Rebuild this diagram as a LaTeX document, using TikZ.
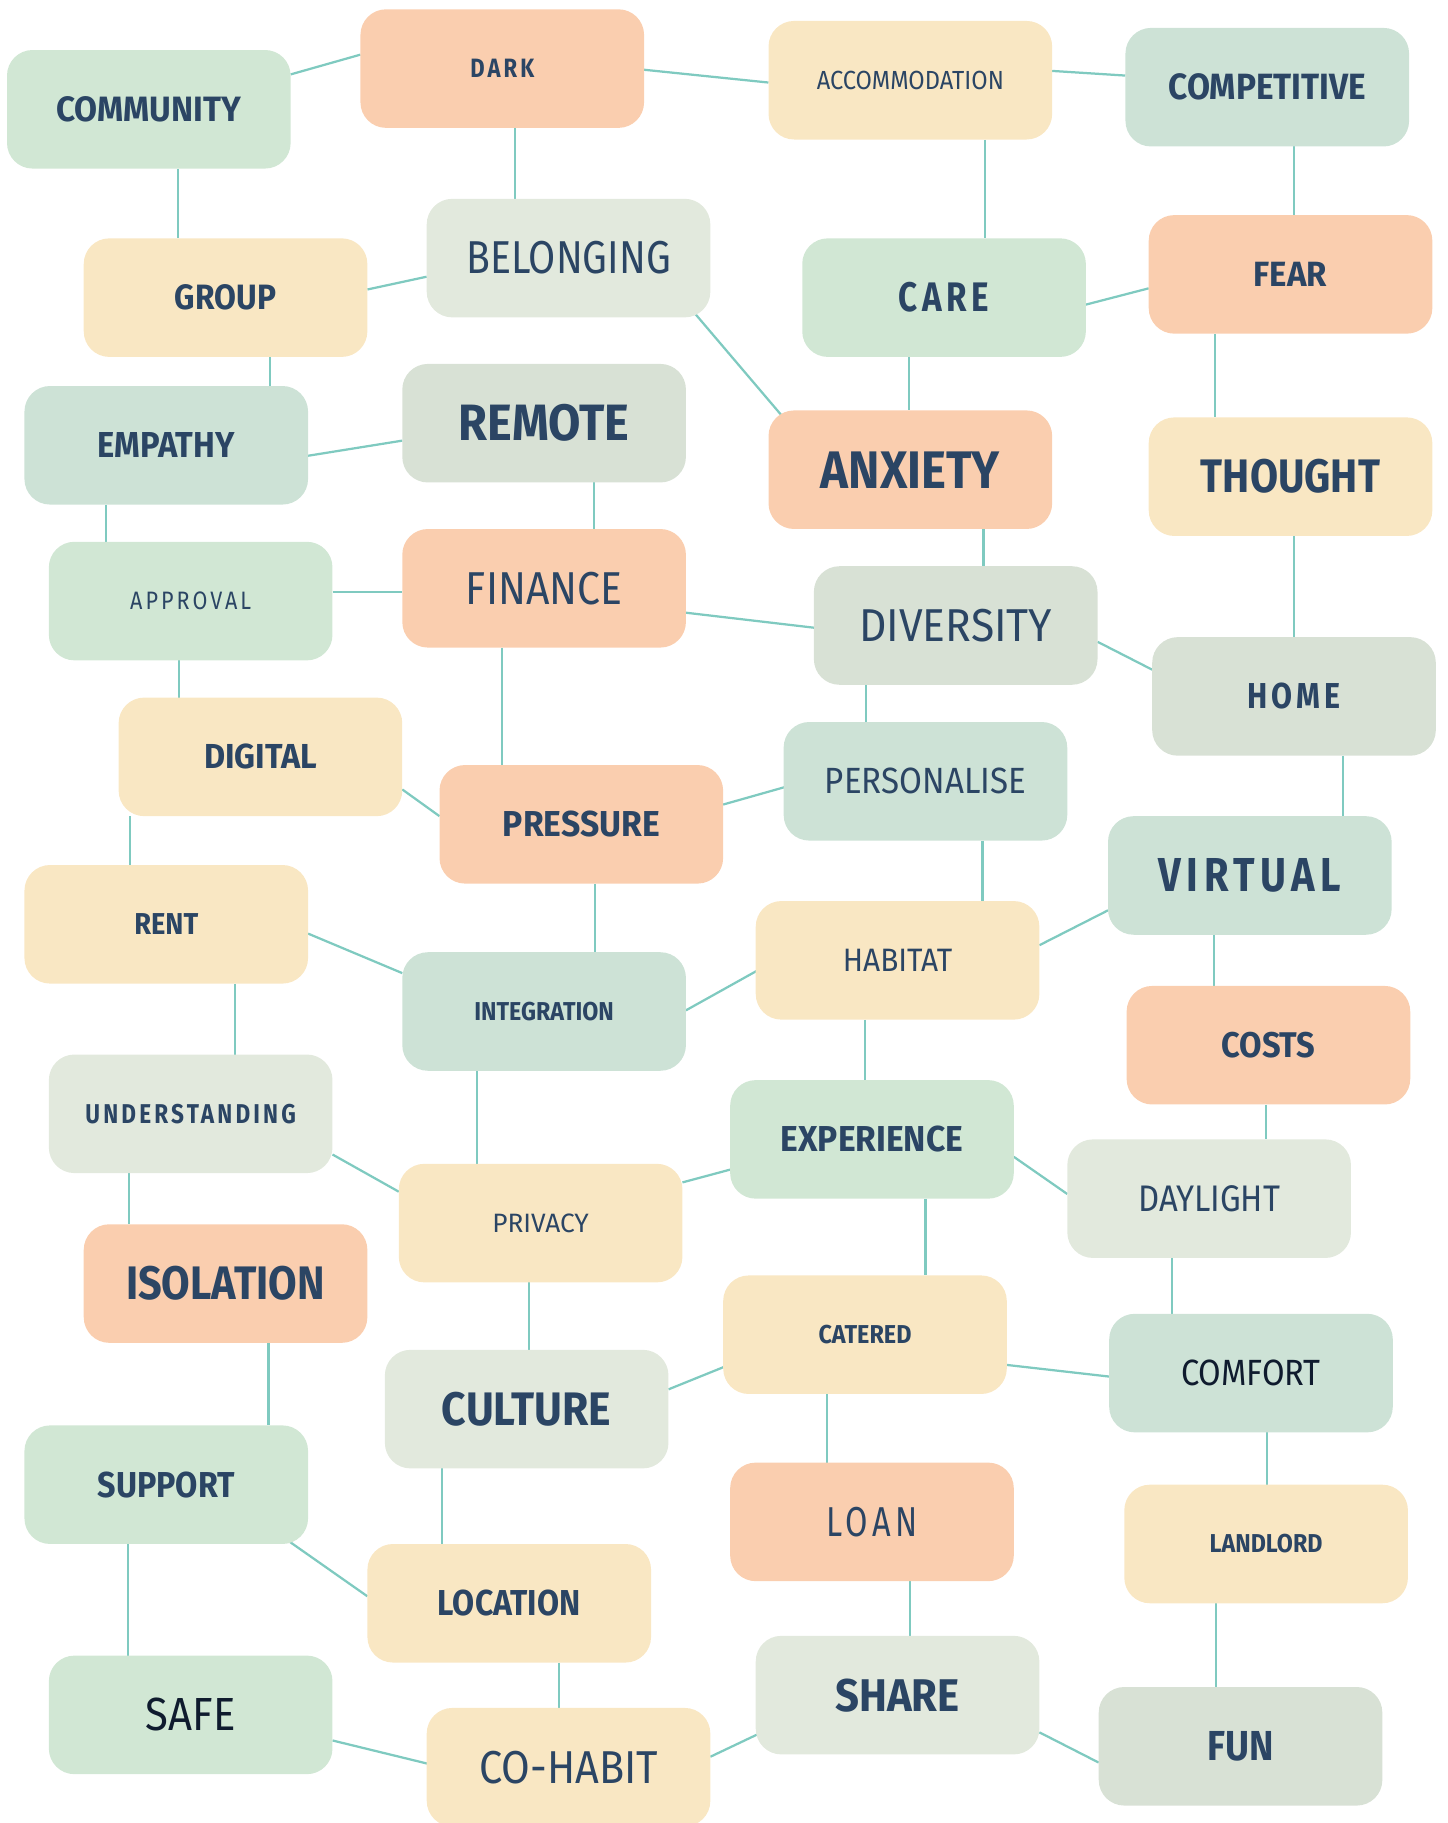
\documentclass[tikz,border=0pt]{standalone}
\usepackage{fontspec}
\setmainfont{Fira Sans}
\usepackage{graphicx}
\usepackage{tikz}
\usetikzlibrary{calc}
\pgfdeclarelayer{background}
\pgfsetlayers{background,main}

\definecolor{ink}{HTML}{2B4564}
\definecolor{deepink}{HTML}{0F1B2E}
\definecolor{leafc}{HTML}{D1E7D4}
\definecolor{peachc}{HTML}{FACEAF}
\definecolor{creamc}{HTML}{F9E7C3}
\definecolor{mintc}{HTML}{CDE2D6}
\definecolor{palec}{HTML}{E2E9DD}
\definecolor{sagec}{HTML}{D8E1D5}
\definecolor{linkc}{HTML}{7FCAC0}

% one unit of the picture
\newlength{\dpx}
\setlength{\dpx}{0.02cm}
% word squeezed to width x cap height
\newcommand{\tw}[3]{\resizebox{#1\dpx}{#2\dpx}{#3}}

\begin{document}
\begin{tikzpicture}[
		x=0.02cm, y=-0.02cm,
		Tag/.style={rectangle,rounded corners=0.44cm,minimum width=4.88cm,minimum height=2.04cm,inner sep=0pt,text=ink,font=\bfseries},
		Thin/.style={font=\mdseries},
		Wide/.style={font=\bfseries\addfontfeature{LetterSpace=14}},
		ThinWide/.style={font=\mdseries\addfontfeature{LetterSpace=14}},
		Leaf/.style={fill=leafc},
		Peach/.style={fill=peachc},
		Cream/.style={fill=creamc},
		Mint/.style={fill=mintc},
		Pale/.style={fill=palec},
		Sage/.style={fill=sagec},
		Link/.style={draw=linkc,line width=1.1pt}
		]
		\useasboundingbox (0,0) rectangle (1245,1568);
		\clip (0,0) rectangle (1245,1568);
		
		% first row
		\node[Tag,Leaf] (community) at (128,94) {\tw{159}{21.5}{COMMUNITY}};
		\node[Tag,Peach,Wide] (dark) at (432,59) {\tw{55}{15.8}{DARK}};
		\node[Tag,Cream,Thin] (accommodation) at (783,69) {\tw{161}{15.8}{ACCOMMODATION}};
		\node[Tag,Mint] (competitive) at (1090,75) {\tw{170}{22.3}{COMPETITIVE}};
		
		\node[Tag,Pale,Thin] (belonging) at (489,222) {\tw{176}{27.8}{BELONGING}};
		\node[Tag,Cream] (group) at (194,256) {\tw{87}{21.5}{GROUP}};
		\node[Tag,Leaf,Wide] (care) at (812,256) {\tw{78}{25.2}{CARE}};
		\node[Tag,Peach] (fear) at (1110,236) {\tw{63}{20.9}{FEAR}};
		
		\node[Tag,Mint] (empathy) at (143,383) {\tw{118}{21.5}{EMPATHY}};
		\node[Tag,Sage] (remote) at (468,364) {\tw{147}{31.2}{REMOTE}};
		\node[Tag,Peach] (anxiety) at (783,404) {\tw{154}{31.5}{ANXIETY}};
		\node[Tag,Cream] (thought) at (1110,410) {\tw{154}{28.7}{THOUGHT}};
		
		\node[Tag,Leaf,ThinWide] (approval) at (164,517) {\tw{104}{15.2}{APPROVAL}};
		\node[Tag,Peach,Thin] (finance) at (468,506) {\tw{134.5}{27.8}{FINANCE}};
		\node[Tag,Sage,Thin] (diversity) at (822,538) {\tw{166}{27.8}{DIVERSITY}};
		\node[Tag,Sage,Wide] (home) at (1113,599) {\tw{80.5}{22}{HOME}};
		
		\node[Tag,Cream] (digital) at (224,651) {\tw{97}{21.2}{DIGITAL}};
		\node[Tag,Peach] (pressure) at (500,709) {\tw{135}{22}{PRESSURE}};
		\node[Tag,Mint,Thin] (personalise) at (796,672) {\tw{173}{22}{PERSONALISE}};
		\node[Tag,Mint,Wide] (virtual) at (1075,753) {\tw{157}{28.4}{VIRTUAL}};
		
		\node[Tag,Cream] (rent) at (143,795) {\tw{55}{18}{RENT}};
		\node[Tag,Cream,Thin] (habitat) at (772,826) {\tw{94}{19.2}{HABITAT}};
		\node[Tag,Mint] (integration) at (468,870) {\tw{120}{15.8}{INTEGRATION}};
		\node[Tag,Peach] (costs) at (1091,899) {\tw{81}{21.8}{COSTS}};
		
		\node[Tag,Pale,Wide] (understanding) at (164,958) {\tw{181}{16.6}{UNDERSTANDING}};
		\node[Tag,Leaf] (experience) at (750,980) {\tw{157}{22}{EXPERIENCE}};
		\node[Tag,Pale,Thin] (daylight) at (1040,1031) {\tw{122}{22.3}{DAYLIGHT}};
		\node[Tag,Cream,Thin] (privacy) at (465,1052) {\tw{83}{16}{PRIVACY}};
		
		\node[Tag,Peach] (isolation) at (194,1104) {\tw{171}{28.7}{ISOLATION}};
		\node[Tag,Cream] (catered) at (744,1148) {\tw{80}{15.8}{CATERED}};
		\node[Tag,Mint,Thin,text=deepink] (comfort) at (1076,1181) {\tw{120}{22}{COMFORT}};
		\node[Tag,Pale] (culture) at (453,1212) {\tw{145.7}{28.7}{CULTURE}};
		
		\node[Tag,Leaf] (support) at (143,1277) {\tw{118}{22}{SUPPORT}};
		\node[Tag,Peach,ThinWide] (loan) at (750,1309) {\tw{78.5}{25.2}{LOAN}};
		\node[Tag,Cream] (landlord) at (1089,1328) {\tw{97}{15.8}{LANDLORD}};
		\node[Tag,Cream] (location) at (438,1379) {\tw{122.7}{22}{LOCATION}};
		
		% last row
		\node[Tag,Leaf,Thin,text=deepink] (safe) at (164,1475) {\tw{77}{28}{SAFE}};
		\node[Tag,Pale] (share) at (772,1458) {\tw{107}{28}{SHARE}};
		\node[Tag,Sage] (fun) at (1067,1502) {\tw{57}{25}{FUN}};
		\node[Tag,Cream,Thin] (cohabit) at (489,1520) {\tw{153.7}{27.8}{CO-HABIT}};
		
		\begin{pgfonlayer}{background}
		\draw[Link] ($(community)+(122,-30)$) -- ($(dark)+(-122,-12)$);
		\draw[Link] ($(dark)+(122,1)$) -- ($(accommodation)+(-122,2)$);
		\draw[Link] ($(accommodation)+(122,-8)$) -- ($(competitive)+(-122,-10)$);
		\draw[Link] ($(dark)+(11,51)$) -- ($(belonging)+(-46,-51)$);
		\draw[Link] ($(community)+(25,51)$) -- ($(group)+(-41,-51)$);
		\draw[Link] ($(group)+(122,-7)$) -- ($(belonging)+(-122,16)$);
		\draw[Link] ($(accommodation)+(64,51)$) -- ($(care)+(35,-51)$);
		\draw[Link] ($(competitive)+(23,51)$) -- ($(fear)+(3,-51)$);
		\draw[Link] ($(care)+(122,6)$) -- ($(fear)+(-122,12)$);
		\draw[Link] ($(belonging)+(109,48)$) -- ($(anxiety)+(-111,-47)$);
		\draw[Link] ($(group)+(38,51)$) -- ($(empathy)+(89,-51)$);
		\draw[Link] ($(empathy)+(122,9)$) -- ($(remote)+(-122,15)$);
		\draw[Link] ($(care)+(-30,51)$) -- ($(anxiety)+(-1,-51)$);
		\draw[Link] ($(fear)+(-65,51)$) -- ($(thought)+(-65,-51)$);
		\draw[Link] ($(empathy)+(-52,51)$) -- ($(approval)+(-73,-51)$);
		\draw[Link] ($(remote)+(43,51)$) -- ($(finance)+(43,-51)$);
		\draw[Link] ($(approval)+(122,-8)$) -- ($(finance)+(-122,3)$);
		\draw[Link] ($(anxiety)+(63,51)$) -- ($(diversity)+(24,-51)$);
		\draw[Link] ($(finance)+(122,21)$) -- ($(diversity)+(-121,2)$);
		\draw[Link] ($(thought)+(3,51)$) -- ($(home)+(0,-51)$);
		\draw[Link] ($(diversity)+(122,14)$) -- ($(home)+(-122,-23)$);
		\draw[Link] ($(approval)+(-10,51)$) -- ($(digital)+(-70,-51)$);
		\draw[Link] ($(finance)+(-36,51)$) -- ($(pressure)+(-68,-51)$);
		\draw[Link] ($(digital)+(122,28)$) -- ($(pressure)+(-122,-7)$);
		\draw[Link] ($(diversity)+(-77,51)$) -- ($(personalise)+(-51,-51)$);
		\draw[Link] ($(pressure)+(122,-17)$) -- ($(personalise)+(-121,5)$);
		\draw[Link] ($(home)+(42,51)$) -- ($(virtual)+(80,-51)$);
		\draw[Link] ($(digital)+(-112,51)$) -- ($(rent)+(-31,-51)$);
		\draw[Link] ($(personalise)+(49,51)$) -- ($(habitat)+(73,-51)$);
		\draw[Link] ($(virtual)+(-122,30)$) -- ($(habitat)+(122,-13)$);
		\draw[Link] ($(rent)+(122,8)$) -- ($(integration)+(-122,-33)$);
		\draw[Link] ($(pressure)+(12,51)$) -- ($(integration)+(44,-51)$);
		\draw[Link] ($(integration)+(122,-1)$) -- ($(habitat)+(-121,9)$);
		\draw[Link] ($(virtual)+(-31,51)$) -- ($(costs)+(-47,-51)$);
		\draw[Link] ($(rent)+(59,51)$) -- ($(understanding)+(38,-51)$);
		\draw[Link] ($(habitat)+(-28,51)$) -- ($(experience)+(-6,-51)$);
		\draw[Link] ($(integration)+(-58,51)$) -- ($(privacy)+(-55,-51)$);
		\draw[Link] ($(understanding)+(122,35)$) -- ($(privacy)+(-122,-27)$);
		\draw[Link] ($(privacy)+(122,-35)$) -- ($(experience)+(-122,26)$);
		\draw[Link] ($(experience)+(122,15)$) -- ($(daylight)+(-122,-4)$);
		\draw[Link] ($(costs)+(-2,51)$) -- ($(daylight)+(49,-51)$);
		\draw[Link] ($(understanding)+(-53,51)$) -- ($(isolation)+(-83,-51)$);
		\draw[Link] ($(experience)+(46,51)$) -- ($(catered)+(52,-51)$);
		\draw[Link] ($(daylight)+(-32,51)$) -- ($(comfort)+(-68,-51)$);
		\draw[Link] ($(privacy)+(-10,51)$) -- ($(culture)+(2,-51)$);
		\draw[Link] ($(catered)+(122,26)$) -- ($(comfort)+(-122,3)$);
		\draw[Link] ($(catered)+(-122,28)$) -- ($(culture)+(122,-17)$);
		\draw[Link] ($(isolation)+(37,51)$) -- ($(support)+(88,-51)$);
		\draw[Link] ($(catered)+(-33,51)$) -- ($(loan)+(-39,-51)$);
		\draw[Link] ($(comfort)+(14,51)$) -- ($(landlord)+(1,-51)$);
		\draw[Link] ($(culture)+(-73,51)$) -- ($(location)+(-58,-51)$);
		\draw[Link] ($(support)+(106,49)$) -- ($(location)+(-122,-6)$);
		\draw[Link] ($(support)+(-33,51)$) -- ($(safe)+(-54,-51)$);
		\draw[Link] ($(loan)+(33,51)$) -- ($(share)+(11,-51)$);
		\draw[Link] ($(landlord)+(-43,51)$) -- ($(fun)+(-21,-51)$);
		\draw[Link] ($(location)+(43,51)$) -- ($(cohabit)+(-8,-51)$);
		\draw[Link] ($(safe)+(122,22)$) -- ($(cohabit)+(-121,-3)$);
		\draw[Link] ($(cohabit)+(122,-9)$) -- ($(share)+(-121,34)$);
		\draw[Link] ($(share)+(122,32)$) -- ($(fun)+(-122,14)$);
		\end{pgfonlayer}
		
\end{tikzpicture}
\end{document}
